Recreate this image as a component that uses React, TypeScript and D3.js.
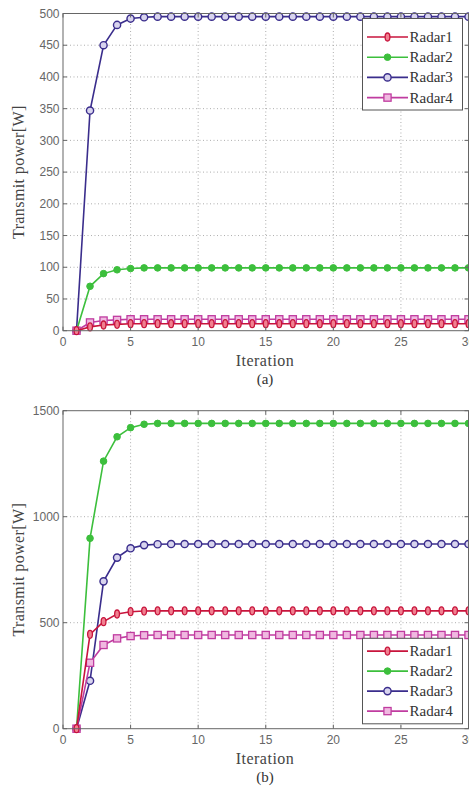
import React from "react";
import * as d3 from "d3";

const iterations = d3.range(1, 31);

// Panel (a)
const a_radar1 = [0, 6, 9, 10, 11, 11, 11, 11, 11, 11, 11, 11, 11, 11, 11, 11, 11, 11, 11, 11, 11, 11, 11, 11, 11, 11, 11, 11, 11, 11];
const a_radar2 = [0, 70, 90, 96, 98, 99, 99, 99, 99, 99, 99, 99, 99, 99, 99, 99, 99, 99, 99, 99, 99, 99, 99, 99, 99, 99, 99, 99, 99, 99];
const a_radar3 = [0, 347, 450, 482, 492, 494, 495, 495, 495, 495, 495, 495, 495, 495, 495, 495, 495, 495, 495, 495, 495, 495, 495, 495, 495, 495, 495, 495, 495, 495];
const a_radar4 = [0, 13, 16, 17, 18, 18, 18, 18, 18, 18, 18, 18, 18, 18, 18, 18, 18, 18, 18, 18, 18, 18, 18, 18, 18, 18, 18, 18, 18, 18];

// Panel (b)
const b_radar1 = [0, 445, 505, 541, 552, 555, 556, 556, 556, 556, 556, 556, 556, 556, 556, 556, 556, 556, 556, 556, 556, 556, 556, 556, 556, 556, 556, 556, 556, 556];
const b_radar2 = [0, 898, 1262, 1377, 1420, 1436, 1440, 1440, 1440, 1440, 1440, 1440, 1440, 1440, 1440, 1440, 1440, 1440, 1440, 1440, 1440, 1440, 1440, 1440, 1440, 1440, 1440, 1440, 1440, 1440];
const b_radar3 = [0, 226, 695, 807, 851, 866, 870, 871, 871, 871, 871, 871, 871, 871, 871, 871, 871, 871, 871, 871, 871, 871, 871, 871, 871, 871, 871, 871, 871, 871];
const b_radar4 = [0, 311, 395, 426, 437, 441, 442, 442, 442, 442, 442, 442, 442, 442, 442, 442, 442, 442, 442, 442, 442, 442, 442, 442, 442, 442, 442, 442, 442, 442];

const xTicks = [0, 5, 10, 15, 20, 25, 30];
const a_yTicks = [0, 50, 100, 150, 200, 250, 300, 350, 400, 450, 500];
const b_yTicks = [0, 500, 1000, 1500];
const seriesNames = ["Radar1", "Radar2", "Radar3", "Radar4"];
const colors = ["#c8143c", "#3cbf3c", "#3a2d8c", "#c03ca0"];
const fills = ["#f08090", "#3cbf3c", "#d8d4ee", "#f0b8e0"];

type Panel = {
  data: number[][];
  yTicks: number[];
  yMax: number;
  top: number;
  bottom: number;
  label: string;
  legendTop: number;
  legendH: number;
  legendFirst: number;
  legendStep: number;
  drawOrder: number[];
};

const panels: Panel[] = [
  { data: [a_radar1, a_radar2, a_radar3, a_radar4], yTicks: a_yTicks, yMax: 500, top: 13.5, bottom: 330.7, label: "(a)", legendTop: 18.5, legendH: 91.5, legendFirst: 18.5, legendStep: 20.2, drawOrder: [2, 1, 3, 0] },
  { data: [b_radar1, b_radar2, b_radar3, b_radar4], yTicks: b_yTicks, yMax: 1500, top: 410.7, bottom: 728.7, label: "(b)", legendTop: 638.3, legendH: 85.5, legendFirst: 12.8, legendStep: 20, drawOrder: [1, 2, 3, 0] },
];

const LEFT = 63;
const RIGHT = 468.5;
const SERIF = "'Liberation Serif', 'Times New Roman', Times, serif";
const SANS = "'Liberation Sans', Arial, sans-serif";

function Marker({ i, x, y }: { i: number; x: number; y: number }) {
  const c = colors[i];
  const f = fills[i];
  if (i === 0) return <ellipse cx={x} cy={y} rx={2.4} ry={4} fill={f} stroke={c} strokeWidth={1.3} />;
  if (i === 1) return <circle cx={x} cy={y} r={3.3} fill={f} stroke={c} strokeWidth={1} />;
  if (i === 2) return <circle cx={x} cy={y} r={3.6} fill={f} stroke={c} strokeWidth={1.4} />;
  return <rect x={x - 3.6} y={y - 3.6} width={7.2} height={7.2} fill={f} stroke={c} strokeWidth={1.3} />;
}

function PanelChart({ p }: { p: Panel }) {
  const x = d3.scaleLinear().domain([0, 30]).range([LEFT, RIGHT]);
  const y = d3.scaleLinear().domain([0, p.yMax]).range([p.bottom, p.top]);
  const line = d3.line<number>().x((_, k) => x(iterations[k])).y((d) => y(d));
  const midY = (p.top + p.bottom) / 2;
  return (
    <g>
      {xTicks.slice(1, -1).map((t) => (
        <line key={"gx" + t} x1={x(t)} x2={x(t)} y1={p.top} y2={p.bottom} stroke="#999" strokeWidth={0.8} strokeDasharray="1,2.5" />
      ))}
      {p.yTicks.slice(1, -1).map((t) => (
        <line key={"gy" + t} x1={LEFT} x2={RIGHT} y1={y(t)} y2={y(t)} stroke="#999" strokeWidth={0.8} strokeDasharray="1,2.5" />
      ))}
      {p.drawOrder.map((i) => (
        <g key={"s" + i}>
          <path d={line(p.data[i]) || ""} fill="none" stroke={colors[i]} strokeWidth={1.6} />
          {p.data[i].map((v, k) => (
            <Marker key={k} i={i} x={x(iterations[k])} y={y(v)} />
          ))}
        </g>
      ))}
      <rect x={LEFT} y={p.top} width={RIGHT - LEFT} height={p.bottom - p.top} fill="none" stroke="#666" strokeWidth={1} />
      {xTicks.map((t) => (
        <g key={"tx" + t}>
          <line x1={x(t)} x2={x(t)} y1={p.bottom} y2={p.bottom - 4} stroke="#666" />
          <line x1={x(t)} x2={x(t)} y1={p.top} y2={p.top + 4} stroke="#666" />
          <text x={x(t)} y={p.bottom + 15.5} textAnchor="middle" fontFamily={SANS} fontSize={12} fill="#666">{t}</text>
        </g>
      ))}
      {p.yTicks.map((t) => (
        <g key={"ty" + t}>
          <line x1={LEFT} x2={LEFT + 4} y1={y(t)} y2={y(t)} stroke="#666" />
          <line x1={RIGHT} x2={RIGHT - 4} y1={y(t)} y2={y(t)} stroke="#666" />
          <text x={LEFT - 3.5} y={y(t) + 4.2} textAnchor="end" fontFamily={SANS} fontSize={12} fill="#666">{t}</text>
        </g>
      ))}
      <text x={265} y={p.bottom + 35.5} textAnchor="middle" fontFamily={SERIF} fontSize={16} letterSpacing={0.5} fill="#444">Iteration</text>
      <text x={265} y={p.bottom + 53} textAnchor="middle" fontFamily={SERIF} fontSize={15} fill="#333">{p.label}</text>
      <text transform={`translate(23.5,${midY}) rotate(-90)`} textAnchor="middle" fontFamily={SERIF} fontSize={16} letterSpacing={0.4} fill="#444">Transmit power[W]</text>
      <g>
        <rect x={362.5} y={p.legendTop} width={100} height={p.legendH} fill="white" stroke="#555" strokeWidth={1} />
        {seriesNames.map((n, i) => {
          const ly = p.legendTop + p.legendFirst + i * p.legendStep;
          return (
            <g key={n}>
              <line x1={367} x2={408} y1={ly} y2={ly} stroke={colors[i]} strokeWidth={1.6} />
              <Marker i={i} x={387.5} y={ly} />
              <text x={409.5} y={ly + 5} fontFamily={SERIF} fontSize={15} fill="#333">{n}</text>
            </g>
          );
        })}
      </g>
    </g>
  );
}

export default function App() {
  return (
    <svg width={469} height={790} style={{ position: "absolute", left: 0, top: 0, background: "white" }}>
      <rect width={469} height={790} fill="white" />
      {panels.map((p, idx) => (
        <PanelChart key={idx} p={p} />
      ))}
    </svg>
  );
}
